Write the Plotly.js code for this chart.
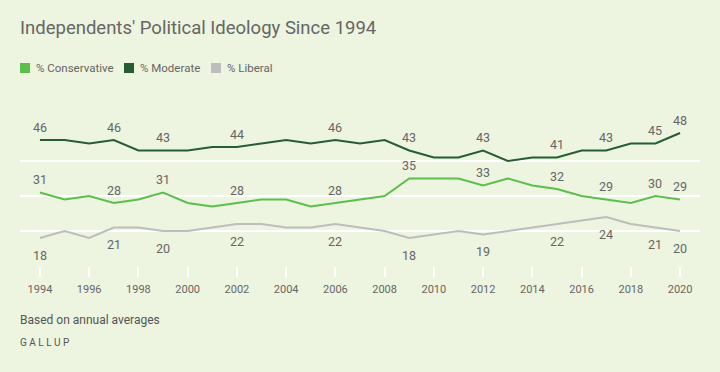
<!DOCTYPE html>
<html>
<head>
<meta charset="utf-8">
<script src="https://cdn.plot.ly/plotly-3.0.1.min.js"></script>
<style>
html,body{margin:0;padding:0;background:#edf4df;}
#chart{width:720px;height:372px;}
</style>
</head>
<body>
<div id="chart"></div>
<script>
const years = [1994,1995,1996,1997,1998,1999,2000,2001,2002,2003,2004,2005,2006,2007,2008,2009,2010,2011,2012,2013,2014,2015,2016,2017,2018,2019,2020];
const conservative = [31,29,30,28,29,31,28,27,28,29,29,27,28,29,30,35,35,35,33,35,33,32,30,29,28,30,29];
const moderate     = [46,46,45,46,43,43,43,44,44,45,46,45,46,45,46,43,41,41,43,40,41,41,43,43,45,45,48];
const liberal      = [18,20,18,21,21,20,20,21,22,22,21,21,22,21,20,18,19,20,19,20,21,22,23,24,22,21,20];
const labeledYears = [1994,1997,1999,2002,2006,2009,2012,2015,2017,2019,2020];
const tickYears = [1994,1996,1998,2000,2002,2004,2006,2008,2010,2012,2014,2016,2018,2020];

const seriesNames = ['% Conservative','% Moderate','% Liberal'];
const seriesColors = ['#5cbf4c','#265c36','#bdbdbd'];
const seriesData = [conservative, moderate, liberal];
const labelShift = [13, 13, -17];

// plot area geometry (pixels) for legend placement in paper coords
const PL = 20, PW = 680, PT = 126, PH = 140;
const px2x = p => (p - PL) / PW;
const px2y = p => (PT + PH - p) / PH;
const legendSwatchX = [20, 124, 211];

const traces = [];
seriesData.forEach((vals, i) => {
  traces.push({
    type:'scatter', mode:'lines', x: years, y: vals, name: seriesNames[i],
    line:{color: seriesColors[i], width:2},
    showlegend:false, hoverinfo:'x+y', cliponaxis:false
  });
});

const annotations = [];
const shapes = [];
seriesData.forEach((vals, i) => {
  labeledYears.forEach(yr => {
    const idx = years.indexOf(yr);
    annotations.push({
      x: yr, y: vals[idx], xref:'x', yref:'y', text: String(vals[idx]),
      showarrow:false, yshift: labelShift[i],
      font:{family:'Roboto, sans-serif', size:12.5, color:'#666666'}
    });
  });
});
seriesNames.forEach((nm, i) => {
  const sx = legendSwatchX[i];
  shapes.push({type:'rect', xref:'paper', yref:'paper',
    x0: px2x(sx), x1: px2x(sx + 10), y0: px2y(73), y1: px2y(63),
    fillcolor: seriesColors[i], line:{width:0}});
  annotations.push({xref:'paper', yref:'paper', x: px2x(sx + 15), y: px2y(68),
    xanchor:'left', yanchor:'middle', text: nm, showarrow:false, xshift:-1,
    font:{family:'Roboto, sans-serif', size:11.5, color:'#666666'}});
});
annotations.push({
  xref:'paper', yref:'paper', x:0, y:0, xanchor:'left', yanchor:'middle',
  text:'Based on annual averages', showarrow:false, xshift:-2, yshift:-54,
  font:{family:'Roboto, sans-serif', size:12, color:'#555555'}
});
annotations.push({
  xref:'paper', yref:'paper', x:0, y:0, xanchor:'left', yanchor:'middle',
  text:'G A L L U P', showarrow:false, xshift:-2, yshift:-76,
  font:{family:'Roboto, sans-serif', size:10, color:'#555555'}
});

const layout = {
  width:720, height:372,
  paper_bgcolor:'#edf4df', plot_bgcolor:'#edf4df',
  margin:{l:20, r:20, t:126, b:106},
  title:{text:"Independents' Political Ideology Since 1994", x:20/720, xref:'container', xanchor:'left', y:1 - 28/372, yref:'container', yanchor:'middle',
    font:{family:'Roboto, sans-serif', size:18.5, color:'#666666'}},
  showlegend:false,
  xaxis:{range:[1993.19, 2020.81], showgrid:false, zeroline:false, showline:false,
    tickvals: tickYears, ticktext: tickYears.map(String), ticks:'outside', ticklen:10, tickwidth:2, tickcolor:'#ffffff',
    ticklabelstandoff:3,
    tickfont:{family:'Roboto, sans-serif', size:11, color:'#666666'}, fixedrange:true},
  yaxis:{range:[10,50], dtick:10, tick0:10, showgrid:true, gridcolor:'#ffffff', gridwidth:2, zeroline:false,
    showticklabels:false, showline:false, fixedrange:true},
  annotations: annotations,
  shapes: shapes
};

Plotly.newPlot('chart', traces, layout, {displayModeBar:false, staticPlot:true});
</script>
</body>
</html>
